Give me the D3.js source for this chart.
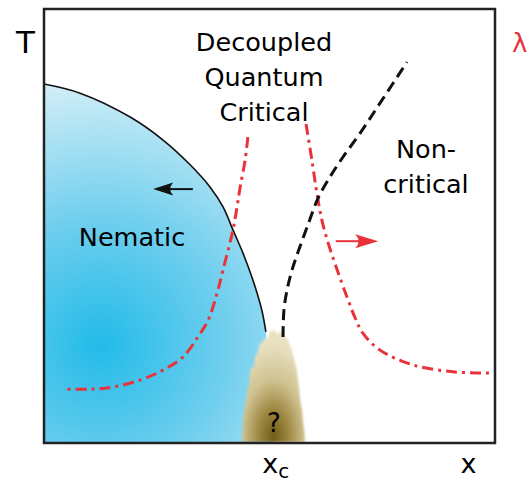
<!DOCTYPE html>
<html><head><meta charset="utf-8">
<script src="https://cdn.jsdelivr.net/npm/d3@7"></script>
<style>html,body{margin:0;padding:0;background:#fff;}svg{display:block;}</style>
</head><body>
<svg id="chart" width="529" height="482"></svg>
<script>
// ---- data (x and T in schematic units 0..100) ----
const nematicX = [0, 8.0, 19.1, 26.4, 32.4, 36.8, 39.7, 41.9, 44.1, 46.3, 48.3, 49.2];
const nematicT = [82.7, 80.6, 75.1, 69.8, 64.1, 59.0, 54.4, 49.1, 43.8, 37.6, 30.6, 25.6];

const lambdaLeftX = [45.2, 44.6, 43.5, 42.8, 41.9, 39.7, 38.4, 36.4, 34.1, 30.8, 26.4, 21.3, 15.3, 10.2, 4.7];
const lambdaLeftT = [70.5, 65.2, 59.0, 54.4, 49.1, 39.9, 34.6, 28.3, 24.4, 19.8, 16.8, 14.5, 12.9, 12.4, 12.4];

const lambdaRightX = [58.1, 59.4, 60.5, 61.6, 63.0, 65.0, 67.2, 69.0, 70.7, 74.5, 81.8, 90.7, 98.9];
const lambdaRightT = [73.5, 65.2, 57.6, 51.4, 46.1, 39.9, 33.6, 28.8, 25.3, 21.4, 18.0, 16.4, 16.1];

const crossoverX = [53.0, 53.2, 53.9, 55.0, 56.5, 58.5, 60.8, 63.4, 66.3, 70.1, 74.5, 80.5];
const crossoverT = [24.4, 30.6, 35.3, 39.9, 44.5, 50.2, 56.5, 61.3, 65.9, 71.4, 78.3, 87.8];

const unknownX = [43.9, 44.1, 44.6, 45.0, 45.5, 45.7, 46.6, 46.8, 47.5, 47.7, 48.6, 49.0, 49.4, 49.9, 50.1, 50.6, 50.8, 51.3, 51.9, 52.4, 53.0, 53.5, 54.1, 54.6, 55.0, 55.3, 55.7, 56.1, 56.3, 56.6, 56.8, 57.2, 57.4, 57.7, 57.9];
const unknownT = [0.2, 5.3, 8.5, 11.5, 14.0, 16.8, 18.0, 19.8, 21.2, 22.6, 23.5, 24.4, 23.8, 24.9, 26.2, 25.3, 26.5, 25.6, 24.9, 26.0, 24.9, 24.6, 23.7, 22.4, 21.4, 20.0, 18.4, 16.6, 14.5, 12.3, 9.9, 7.7, 5.3, 2.8, 0.2];

const arrowNematicX = [33.0, 24.2];
const arrowNematicT = [58.5, 58.5];
const arrowLambdaX = [64.7, 74.1];
const arrowLambdaT = [46.5, 46.5];

const tickLabels = ["x", "x"];
const tickSubs = ["c", ""];
const tickValues = [51.4, 94.1];
const axisTitleY = "T";
const axisTitleY2 = "λ";
const regionDQC = ["Decoupled", "Quantum", "Critical"];
const regionNC = ["Non-", "critical"];
const regionNem = ["Nematic"];
const regionUnknown = ["?"];

// ---- drawing ----
const svg = d3.select("#chart");
const x = d3.scaleLinear().domain([0, 100]).range([44, 495]);
const y = d3.scaleLinear().domain([0, 100]).range([443, 9]);
const RED = "#e8333a";
const FONT = "DejaVu Sans, Verdana, sans-serif";

const defs = svg.append("defs");
const gb = defs.append("radialGradient").attr("id", "blue")
  .attr("gradientUnits", "userSpaceOnUse").attr("cx", 100).attr("cy", 345).attr("r", 290);
[[0, "#22bbe9"], [0.45, "#72cfee"], [1, "#e4f4f9"]].forEach(s =>
  gb.append("stop").attr("offset", s[0]).attr("stop-color", s[1]));
const gt = defs.append("radialGradient").attr("id", "tan")
  .attr("cx", 0.5).attr("cy", 0.95).attr("r", 0.8);
[[0, "#705c16"], [0.3, "#9e8842"], [0.62, "#cfc290"], [1, "#e8e0c0"]].forEach(s =>
  gt.append("stop").attr("offset", s[0]).attr("stop-color", s[1]));
defs.append("filter").attr("id", "soft").append("feGaussianBlur").attr("stdDeviation", 0.8);

const pts = (xs, ts) => xs.map((v, i) => [x(v), y(ts[i])]);
const smooth = d3.line().curve(d3.curveCatmullRom.alpha(0.5));

// nematic fill
const nemPts = pts(nematicX, nematicT);
const nemArea = nemPts.concat([[x(nematicX[nematicX.length - 1] + 1.5), y(0)], [x(0), y(0)]]);
svg.append("path").attr("d", smooth(nemPts) + "L" + nemArea.slice(nemPts.length).map(p => p.join(",")).join("L") + "Z")
  .attr("fill", "url(#blue)");

// unknown region blob
svg.append("path").attr("d", d3.line()(pts(unknownX, unknownT)) + "Z")
  .attr("fill", "url(#tan)").attr("filter", "url(#soft)");

// nematic boundary
svg.append("path").attr("d", smooth(nemPts)).attr("fill", "none")
  .attr("stroke", "#111").attr("stroke-width", 1.6);

// lambda curves (dash-dot)
[[lambdaLeftX, lambdaLeftT], [lambdaRightX, lambdaRightT]].forEach(([xs, ts]) => {
  svg.append("path").attr("d", smooth(pts(xs, ts))).attr("fill", "none")
    .attr("stroke", RED).attr("stroke-width", 3).attr("stroke-dasharray", "11,5,3,5");
});

// crossover dashed
svg.append("path").attr("d", smooth(pts(crossoverX, crossoverT))).attr("fill", "none")
  .attr("stroke", "#111").attr("stroke-width", 3).attr("stroke-dasharray", "11,6");

// arrows
function arrow(xs, ts, color, hl, hw) {
  const x0 = x(xs[0]), x1 = x(xs[1]), yy = y(ts[0]);
  const dir = Math.sign(x1 - x0);
  svg.append("line").attr("x1", x0).attr("y1", yy).attr("x2", x1 - dir * hl * 0.6).attr("y2", yy)
    .attr("stroke", color).attr("stroke-width", 2);
  const bx = x1 - dir * hl;
  svg.append("path")
    .attr("d", `M${x1},${yy}L${bx},${yy - hw}Q${x1 - dir * hl * 0.7},${yy} ${bx},${yy + hw}Z`)
    .attr("fill", color);
}
arrow(arrowNematicX, arrowNematicT, "#111", 20, 6.5);
arrow(arrowLambdaX, arrowLambdaT, RED, 23, 7);

// frame
svg.append("rect").attr("x", x(0)).attr("y", y(100)).attr("width", x(100) - x(0)).attr("height", y(0) - y(100))
  .attr("fill", "none").attr("stroke", "#222").attr("stroke-width", 2.5);

// texts
const txt = (s, tx, ty, size, anchor, fill) => svg.append("text").attr("x", tx).attr("y", ty)
  .attr("font-family", FONT).attr("font-size", size).attr("text-anchor", anchor || "middle")
  .attr("fill", fill || "#000").text(s);

txt(axisTitleY, 16, 53, 31, "start");
txt(axisTitleY2, 512, 52, 26, "start", RED);
regionDQC.forEach((s, i) => txt(s, 264, 51 + i * 35, 25.5));
regionNC.forEach((s, i) => txt(s, 426, 158 + i * 35, 25.5));
txt(regionNem[0], 132, 246, 25.5);
txt(regionUnknown[0], 274, 432, 26);

tickLabels.forEach((s, i) => {
  const t = svg.append("text").attr("x", x(tickValues[i])).attr("y", 473)
    .attr("font-family", FONT).attr("font-size", 27).attr("text-anchor", "middle").attr("fill", "#000");
  t.append("tspan").text(s);
  if (tickSubs[i]) t.append("tspan").attr("font-size", 20).attr("dy", 5).text(tickSubs[i]);
});
</script>
</body></html>
